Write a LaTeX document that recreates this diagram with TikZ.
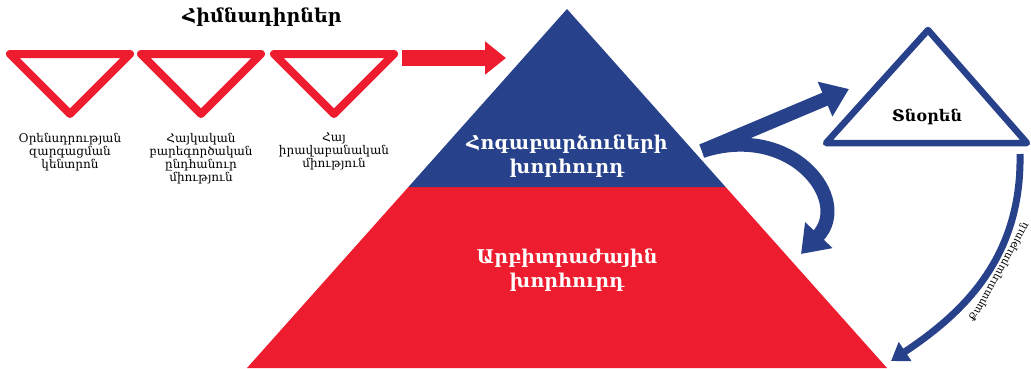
\documentclass[tikz,border=0pt]{standalone}
\usepackage{fontspec}
\setmainfont{DejaVu Serif}
\usetikzlibrary{positioning,arrows.meta}
\definecolor{armred}{RGB}{237,28,46}
\definecolor{armblue}{RGB}{39,65,139}

\begin{document}
\begin{tikzpicture}[x=1pt, y=-1pt,
  foundtri/.style={draw=armred, line width=8pt, line join=round},
  foundnode/.style={align=center, anchor=north, inner sep=0pt, font=\fontsize{12}{13}\selectfont},
  levelnode/.style={align=center, text=white, inner sep=0pt, font=\bfseries\fontsize{19}{24}\selectfont},
  redarrow/.style={draw=armred, line width=16pt, -{Triangle[length=21pt, width=32pt]}},
  bluearrow/.style={draw=armblue, line width=14pt, -{Triangle[length=26pt, width=36pt]}},
  secarrow/.style={draw=armblue, line width=7pt, -{Triangle[length=17pt, width=22pt]}}
  ]
  \useasboundingbox (0,0) rectangle (1031,368);

  % Founders
  \node[font=\bfseries\fontsize{19}{21}\selectfont] (title) at (262,17) {Հիմնադիրներ};
  \draw[foundtri] (10,54) -- (130,54) -- (70,114) -- cycle;
  \draw[foundtri] (141,54) -- (261,54) -- (201,114) -- cycle;
  \draw[foundtri] (274,54) -- (394,54) -- (334,114) -- cycle;
  \node[foundnode]  (found1)  at (70,133)   {Օրենսդրության\\զարգացման\\կենտրոն};
  \node[foundnode]  (found2)  at (201,133)  {Հայկական\\բարեգործական\\ընդհանուր\\միություն};
  \node[foundnode]  (found3)  at (334,133)  {Հայ\\իրավաբանական\\միություն};

  % Founders arrow
  \coordinate (found-out) at (402,58);
  \coordinate (pyramid-in) at (506,58);
  \draw[redarrow] (found-out) -- (pyramid-in);

  % Pyramid
  \fill[armred]  (247,368) -- (408.4,187) -- (725.6,187) -- (887,368) -- cycle;
  \fill[armblue] (408.4,187) -- (567,9) -- (725.6,187) -- cycle;
  \node[levelnode]  (board)    at (567,156)  {Հոգաբարձուների\\խորհուրդ};
  \node[levelnode]  (council)  at (567,270)  {Արբիտրաժային\\խորհուրդ};

  % Director
  \draw[draw=armblue, line width=6.5pt, line join=round] (928,30) -- (826,143) -- (1027,143) -- cycle;
  \node[font=\bfseries\fontsize{16}{18}\selectfont] (director) at (927,117) {Տնօրեն};

  % Arrows from the board
  \coordinate (board-out)   at (702,151);
  \coordinate (director-in) at (849,89);
  \coordinate (council-in)  at (801,254);
  \draw[bluearrow] (board-out) -- (director-in);
  \draw[bluearrow] (board-out) .. controls (792,122) and (852,200) .. (council-in);

  % Secretariat
  \coordinate (director-out) at (1020,154);
  \coordinate (council-back) at (891,361);
  \draw[secarrow] (director-out) .. controls (1022,260) and (960,315) .. (council-back);
  \node[rotate=61, inner sep=0pt, font=\fontsize{10.5}{12}\selectfont] (secretary) at (999,272) {Քարտուղարություն};
\end{tikzpicture}
\end{document}
